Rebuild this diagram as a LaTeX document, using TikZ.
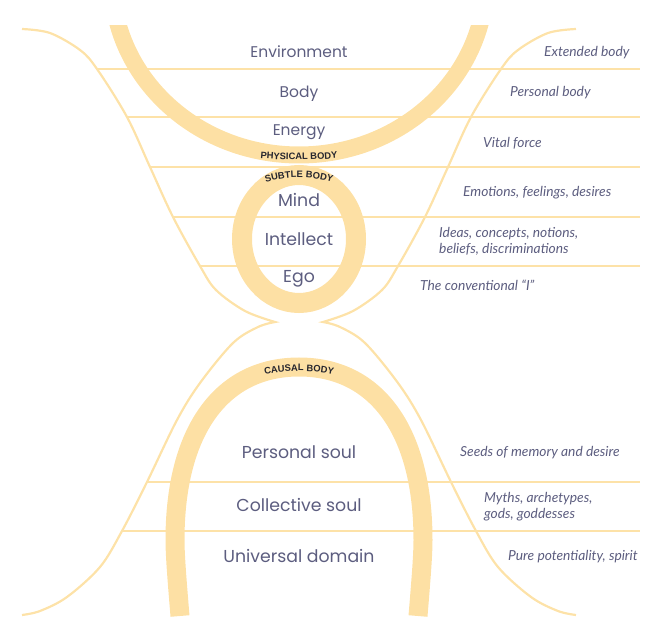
\documentclass[tikz,border=0pt]{standalone}
\usepackage{fontspec}
\setmainfont{Poppins}
\newfontfamily\latofont{Lato}
\newfontfamily\curvefont{Liberation Sans}
\usetikzlibrary{decorations.text}
\definecolor{bandc}{HTML}{FDE0A4}
\definecolor{thinc}{HTML}{FDE2A8}
\definecolor{ink}{HTML}{5C5D7F}
\definecolor{darkink}{HTML}{26262E}
\tikzset{
  thinline/.style={draw=thinc, line width=2.2pt},
  bandline/.style={draw=bandc, line width=18pt},
  clab/.style={text=ink, inner sep=0pt, font=\fontsize{15.5}{17}\selectfont},
  blab/.style={text=ink, inner sep=0pt, font=\fontsize{17.3}{19}\selectfont},
  rlab/.style={text=ink, inner sep=0pt, anchor=west, align=left, font=\latofont\itshape\fontsize{13.8}{16}\selectfont},
  curvelab/.style={decorate, decoration={text along path, text align=center, text color=darkink, text={|\curvefont\bfseries\fontsize{9.4}{10}\selectfont|#1}}}
}
\begin{document}
\begin{tikzpicture}[x=1pt,y=-1pt]
\useasboundingbox (0,0) rectangle (648,636);
% horizontal lines
\draw[thinline] (97,69) -- (640,69);
\draw[thinline] (127,117) -- (640,117);
\draw[thinline] (150,167) -- (640,167);
\draw[thinline] (173,217) -- (640,217);
\draw[thinline] (200,266) -- (640,266);
\draw[thinline] (147,482) -- (640,482);
\draw[thinline] (122,531) -- (640,531);
% outer curves
\foreach \s/\m in {1/0, -1/598}{
\begin{scope}[xshift=\m pt, xscale=\s]
\draw[thinline, line join=miter] plot[smooth, tension=0.55] coordinates {(22,29) (50,33) (80,50) (97,69) (127,117) (150,167) (173,217) (200,266) (216,290) (245,311) (275,322)}
  -- plot[smooth, tension=0.55] coordinates {(275,322) (258,327) (233,343) (200,383) (177,420) (147,482) (122,531) (100,567) (67,597) (40,611) (22,615)};
\end{scope}}
% physical body (U band)
\begin{scope}
\clip (0,26) rectangle (648,636);
\draw[bandline, line width=17pt] (299,-20) ellipse [x radius=187, y radius=175];
\end{scope}
% subtle body ring
\draw[bandline, line width=20pt] (299,239) ellipse [x radius=57, y radius=64];
% causal body arch
\draw[bandline, line width=19pt] (180,616) .. controls (177,580) and (175,555) .. (175,540)
  .. controls (175,430) and (222,367) .. (299,367)
  .. controls (376,367) and (423,430) .. (423,540)
  .. controls (423,555) and (421,580) .. (418,616);
% curved labels
\path[curvelab={PHYSICAL BODY}] (250,157) parabola bend (299,160) (348,157);
\path[curvelab={SUBTLE BODY}] (258,185) parabola bend (299,177.5) (340,185);
\path[curvelab={CAUSAL BODY}] (254,377) parabola bend (299,371) (344,377);
% centre labels
\node[clab] (env) at (299,52) {Environment};
\node[clab] (body) at (299,94) {Body};
\node[clab] (energy) at (299,132) {Energy};
\node[blab] (mind) at (299,200) {Mind};
\node[blab] (intellect) at (299,239) {Intellect};
\node[blab] (ego) at (299,279) {Ego};
\node[blab] (psoul) at (299,452) {Personal soul};
\node[blab] (csoul) at (299,505) {Collective soul};
\node[blab] (udom) at (299,556) {Universal domain};
% right labels
\node[rlab] (ext) at (544,53) {Extended body};
\node[rlab] (pbody) at (510,93) {Personal body};
\node[rlab] (vital) at (483,143) {Vital force};
\node[rlab] (emo) at (463,193) {Emotions, feelings, desires};
\node[rlab] (ideas) at (439,241) {Ideas, concepts, notions,\\beliefs, discriminations};
\node[rlab] (conv) at (420,285) {The conventional “I”};
\node[rlab] (seeds) at (460,453) {Seeds of memory and desire};
\node[rlab] (myths) at (484,507) {Myths, archetypes,\\gods, goddesses};
\node[rlab] (pure) at (508,557) {Pure potentiality, spirit};
\end{tikzpicture}
\end{document}
